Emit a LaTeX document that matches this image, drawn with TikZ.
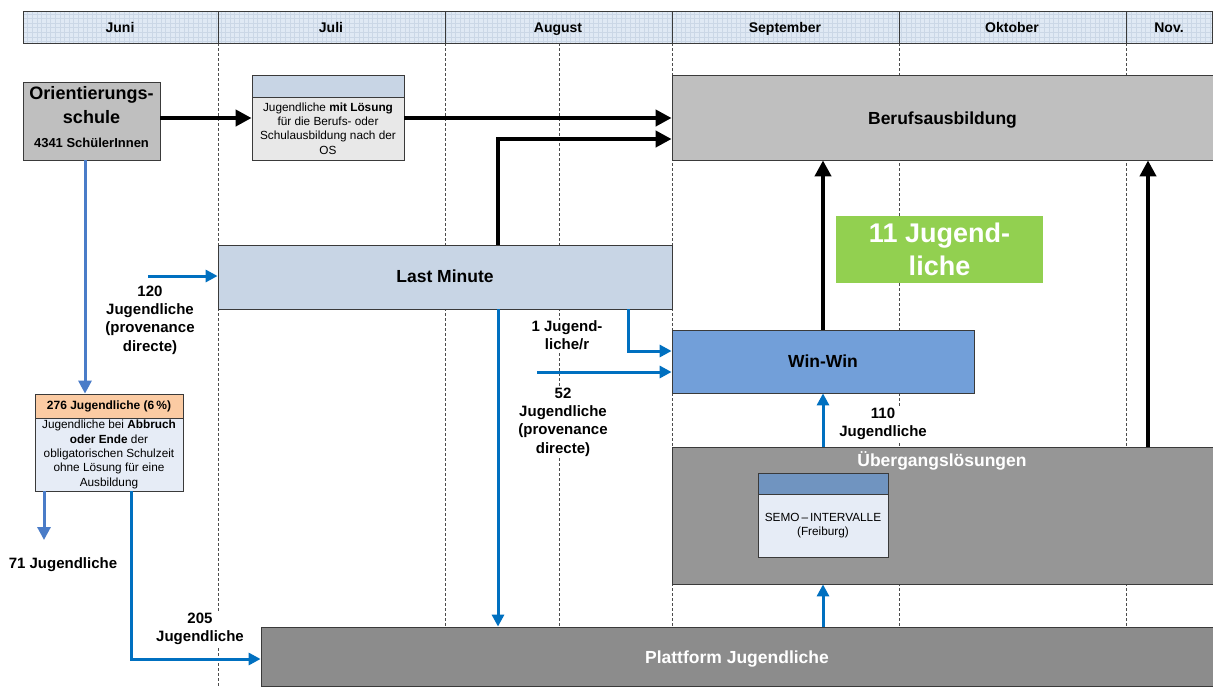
\documentclass[tikz,border=0pt]{standalone}
\usepackage{fontspec}
\setmainfont{Liberation Sans}
\usetikzlibrary{arrows.meta,calc}
\definecolor{hdr}{HTML}{E0E9F4}
\definecolor{hdrgrid}{HTML}{CBD7E6}
\definecolor{gray1}{HTML}{BFBFBF}
\definecolor{gray2}{HTML}{969696}
\definecolor{gray3}{HTML}{8C8C8C}
\definecolor{lmblue}{HTML}{C8D5E5}
\definecolor{wwblue}{HTML}{729FD9}
\definecolor{semotop}{HTML}{7094C0}
\definecolor{paleblue}{HTML}{E6ECF6}
\definecolor{peach}{HTML}{FBCBA3}
\definecolor{litegray}{HTML}{E8E8E8}
\definecolor{green1}{HTML}{92D050}
\definecolor{arrblue}{HTML}{0070C0}
\definecolor{arrblue2}{HTML}{4A7CC8}
\definecolor{edge}{HTML}{3A3A3A}
\newcommand\myfs[2]{\fontsize{#1}{#2}\selectfont}
\begin{document}
\begin{tikzpicture}[x=1pt,y=-1pt,
  boxx/.style={draw=edge, line width=0.8pt, inner sep=0pt, align=center},
  month/.style={font=\bfseries\myfs{14}{16}, anchor=base},
  small/.style={font=\myfs{11.8}{14.3}},
  big/.style={font=\bfseries\myfs{17.5}{20}, text height=14.6pt, text depth=3pt},
  lbl/.style={font=\bfseries\myfs{15}{18.3}, align=center, fill=white, inner sep=1pt},
  blk/.style={line width=4.5pt, -{Triangle[length=16pt,width=16pt]}},
  blu/.style={line width=3pt, draw=arrblue, -{Triangle[length=12pt,width=12pt]}},
  blutwo/.style={line width=3pt, draw=arrblue2, -{Triangle[length=13pt,width=13pt]}},
  dsh/.style={draw=black!70, line width=0.7pt, dash pattern=on 3pt off 2pt}
]
\useasboundingbox (0,0) rectangle (1213,686);
\fill[white] (0,0) rectangle (1213,686);

% dashed month lines
\foreach \xx in {218,445,559,672,899,1126}
  \draw[dsh] (\xx,43) -- (\xx,686);

% header
\fill[hdr] (23,11) rectangle (1212,43);
\begin{scope}
  \clip (23,11) rectangle (1212,43);
  \draw[hdrgrid, line width=0.3pt] (23,11) grid[step=4.6pt] (1212,43);
\end{scope}
\draw[edge, line width=0.8pt] (23,11) rectangle (1212,43);
\foreach \xx in {218,445,672,899,1126}
  \draw[edge, line width=1pt] (\xx,11) -- (\xx,43);
\node[month] (mjun) at (120,32) {Juni};
\node[month] (mjul) at (331,32) {Juli};
\node[month] (maug) at (558,32) {August};
\node[month] (msep) at (785,32) {September};
\node[month] (mokt) at (1012,32) {Oktober};
\node[month] (mnov) at (1169,32) {Nov.};

% boxes
\node[boxx, fill=gray1, minimum width=137pt, minimum height=78pt] (os) at (91.5,121) {};
\node[align=center, inner sep=0pt, font=\bfseries\myfs{18}{24}] (ostxt) at (91.5,117)
  {Orientierungs-\\schule\\\myfs{13}{15}4341 SchülerInnen};

\node[boxx, fill=lmblue, minimum width=152pt, minimum height=22pt] (b2top) at (328,86) {};
\node[boxx, fill=litegray, minimum width=152pt, minimum height=63pt, small] (b2) at (328,128.5)
  {Jugendliche \textbf{mit Lösung}\\für die Berufs- oder\\Schulausbildung nach der\\OS};

\node[boxx, fill=gray1, minimum width=541pt, minimum height=85pt, big, text height=16.6pt] (beruf) at (942.5,117.5) {Berufsausbildung};

\node[boxx, fill=lmblue, minimum width=454pt, minimum height=64pt, big] (lm) at (445,277) {Last Minute};

\node[boxx, fill=wwblue, minimum width=302pt, minimum height=63pt, big] (ww) at (823,361.5) {Win-Win};

\node[fill=green1, minimum width=207pt, minimum height=67pt, inner sep=0pt, align=center,
  text=white, font=\bfseries\myfs{27}{33}] (green) at (939.5,249.5) {11 Jugend-\\liche};

\node[boxx, fill=gray2, minimum width=541pt, minimum height=137pt] (ueb) at (942.5,515.5) {};
\node[text=white, font=\bfseries\myfs{17.5}{20}, inner sep=0pt] (uebtxt) at (942,461) {Übergangslösungen};

\node[boxx, fill=semotop, minimum width=130pt, minimum height=21pt] (semotop) at (823,483.5) {};
\node[boxx, fill=paleblue, minimum width=130pt, minimum height=63pt, small] (semo) at (823,525.5)
  {SEMO\,--\,INTERVALLE\\(Freiburg)};

\node[boxx, fill=gray3, minimum width=952pt, minimum height=59pt, big, text height=16.6pt, text=white] (plat) at (737,656.5) {Plattform Jugendliche};

\node[boxx, fill=peach, minimum width=148pt, minimum height=24pt, font=\bfseries\myfs{12}{14}] (j276top) at (109,406) {276 Jugendliche (6\,\%)};
\node[boxx, fill=paleblue, minimum width=148pt, minimum height=73pt, small] (j276) at (109,454.5)
  {Jugendliche bei \textbf{Abbruch}\\\textbf{oder Ende} der\\obligatorischen Schulzeit\\ohne Lösung für eine\\Ausbildung};

% coordinates
\coordinate (r1) at (0,118);
\coordinate (k1) at (498,139);
\coordinate (in120) at (148,276);
\coordinate (c85) at (85,0);
\coordinate (e71) at (44,540);
\coordinate (k205) at (131,659);
\coordinate (k628) at (628,351);
\coordinate (in52) at (537,372);
\coordinate (c1148) at (1148,0);

% black arrows
\draw[blk] (os.east |- r1) -- (b2.west |- r1);
\draw[blk] (b2.east |- r1) -- (beruf.west |- r1);
\draw[blk] (lm.north -| k1) -- (k1) -- (k1 -| beruf.west);
\draw[blk] (ww.north) -- (ww.north |- beruf.south);
\draw[blk] (ueb.north -| c1148) -- (beruf.south -| c1148);

% blue arrows
\draw[blu] (in120) -- (in120 -| lm.west);
\draw[blutwo] (os.south -| c85) -- (j276top.north -| c85);
\draw[blutwo] (j276.south -| e71) -- (e71);
\draw[blu] (j276.south -| k205) -- (k205) -- (k205 -| plat.west);
\draw[blu] (lm.south -| k1) -- (plat.north -| k1);
\draw[blu] (lm.south -| k628) -- (k628) -- (k628 -| ww.west);
\draw[blu] (in52) -- (in52 -| ww.west);
\draw[blu] (ueb.north -| ww.south) -- (ww.south);
\draw[blu] (plat.north -| ww.south) -- (ueb.south -| ww.south);

% labels
\node[lbl] (l120) at (150,320) {120\\Jugendliche\\(provenance\\directe)};
\node[lbl] (l71) at (63,565) {71 Jugendliche};
\node[lbl] (l205) at (200,629) {205\\Jugendliche};
\node[lbl] (l1) at (567,335.5) {1 Jugend-\\liche/r};
\node[lbl] (l52) at (563,422) {52\\Jugendliche\\(provenance\\directe)};
\node[lbl] (l110) at (883,424) {110\\Jugendliche};
\end{tikzpicture}
\end{document}
